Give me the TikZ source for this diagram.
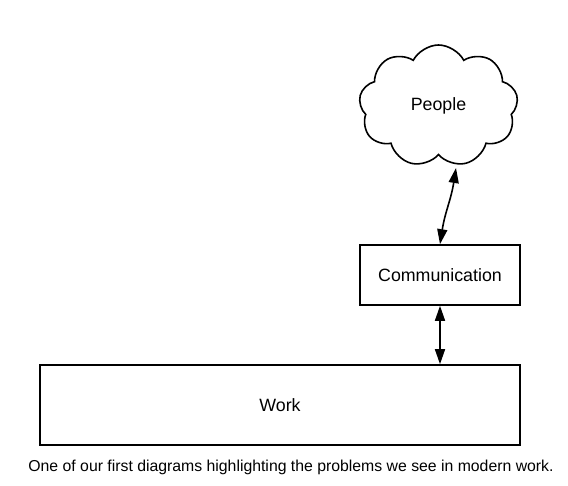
\documentclass[tikz,border=0pt]{standalone}
\usepackage{fontspec}
\setmainfont{Liberation Sans}
\usetikzlibrary{shapes.symbols,arrows.meta}
\begin{document}
\begin{tikzpicture}[x=1pt,y=-1pt,
  box/.style={draw=black,line width=1.6pt,fill=white,inner sep=0pt,font=\fontsize{17.8}{21}\selectfont},
  arr/.style={line width=1.6pt,{Triangle[length=15pt,width=10pt]}-{Triangle[length=15pt,width=10pt]}}]
\useasboundingbox (0,0) rectangle (568,486);
\node[box,cloud,cloud puffs=9,cloud puff arc=125,minimum width=159pt,minimum height=122pt] (cloud) at (438.5,106) {People};
\node[box,minimum width=160pt,minimum height=60pt] (comm) at (440,275) {Communication};
\node[box,minimum width=480pt,minimum height=80pt] (work) at (280,405) {Work};
\node[font=\fontsize{15.8}{18}\selectfont] (cap) at (291,467) {One of our first diagrams highlighting the problems we see in modern work.};
\coordinate (a1) at (456,168);
\draw[arr] (a1) .. controls (451,200) and (445,212) .. (comm.north);
\draw[arr] (comm.south) -- (comm.south |- work.north);
\end{tikzpicture}
\end{document}
